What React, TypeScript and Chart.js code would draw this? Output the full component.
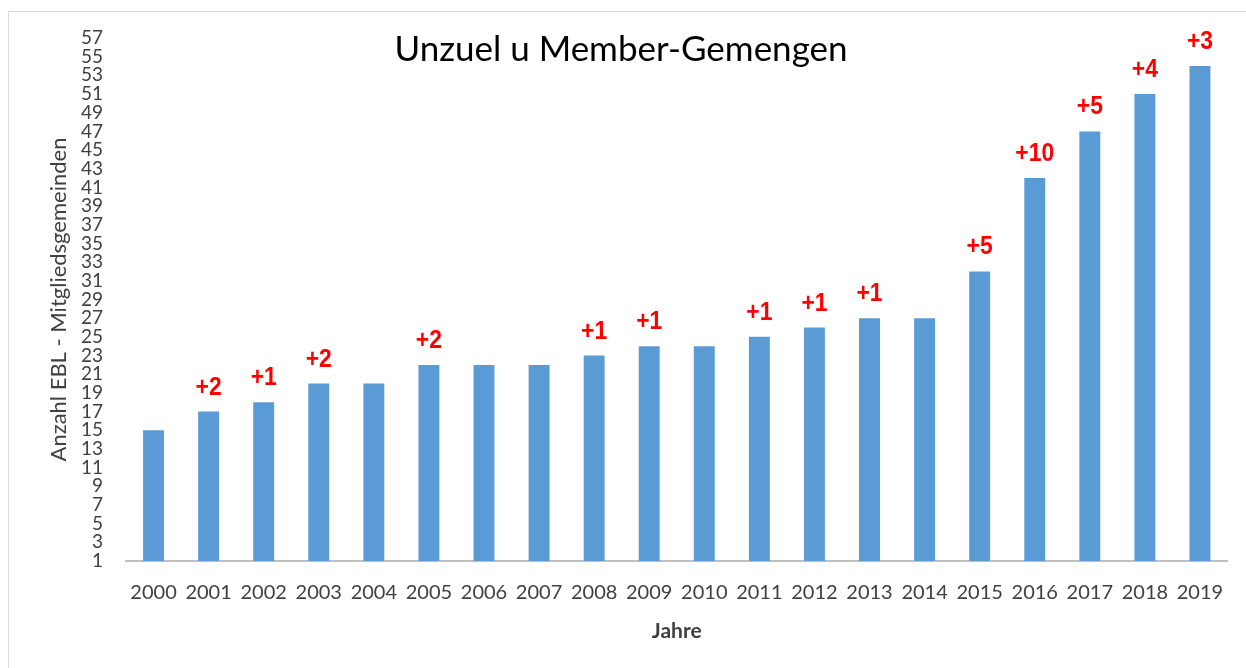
import React, { useEffect, useRef } from "react";
import { Chart, registerables } from "chart.js";

Chart.register(...registerables);

const years = ["2000","2001","2002","2003","2004","2005","2006","2007","2008","2009","2010","2011","2012","2013","2014","2015","2016","2017","2018","2019"];
const members = [15, 17, 18, 20, 20, 22, 22, 22, 23, 24, 24, 25, 26, 27, 27, 32, 42, 47, 51, 54];
const increments = ["", "+2", "+1", "+2", "", "+2", "", "", "+1", "+1", "", "+1", "+1", "+1", "", "+5", "+10", "+5", "+4", "+3"];
const chartTitle = "Unzuel u Member-Gemengen";
const yTitle = "Anzahl EBL - Mitgliedsgemeinden";
const xTitle = "Jahre";

const FONT = "Lato, 'Open Sans', sans-serif";

const framePlugin = {
  id: "frame",
  beforeDraw(chart: any) {
    const ctx = chart.ctx;
    ctx.save();
    ctx.fillStyle = "#ffffff";
    ctx.fillRect(0, 0, chart.width, chart.height);
    ctx.strokeStyle = "#d9d9d9";
    ctx.lineWidth = 1;
    ctx.strokeRect(8.5, 11.5, chart.width + 20, chart.height + 20);
    ctx.restore();
  },
  afterDraw(chart: any) {
    const ctx = chart.ctx;
    ctx.save();
    ctx.fillStyle = "#000000";
    ctx.font = `35px ${FONT}`;
    ctx.textAlign = "center";
    ctx.textBaseline = "middle";
    ctx.fillText(chartTitle, 621, 50);
    ctx.restore();
  },
};

const incrementPlugin = {
  id: "increments",
  afterDatasetsDraw(chart: any) {
    const ctx = chart.ctx;
    const meta = chart.getDatasetMeta(0);
    ctx.save();
    ctx.fillStyle = "#ff0000";
    ctx.font = `bold 26px 'Liberation Sans Narrow', 'Liberation Sans', Arial, sans-serif`;
    ctx.textAlign = "center";
    ctx.textBaseline = "alphabetic";
    meta.data.forEach((bar: any, i: number) => {
      const t = increments[i];
      if (!t) return;
      ctx.save();
      ctx.translate(bar.x, bar.y - 17);
      ctx.scale(0.88, 1);
      ctx.fillText(t, 0, 0);
      ctx.restore();
    });
    ctx.restore();
  },
};

export default function App() {
  const ref = useRef<HTMLCanvasElement>(null);
  useEffect(() => {
    document.body.style.margin = "0";
    document.body.style.overflow = "hidden";
    const chart = new Chart(ref.current as HTMLCanvasElement, {
      type: "bar",
      data: {
        labels: years,
        datasets: [
          {
            data: members,
            backgroundColor: "#5b9bd5",
            borderWidth: 0,
            barPercentage: 0.38,
            categoryPercentage: 1,
          },
        ],
      },
      options: {
        responsive: false,
        animation: false,
        events: [],
        layout: { padding: { left: 0, top: 38, right: 18.5, bottom: 0 } },
        plugins: {
          legend: { display: false },
          title: { display: false },
          tooltip: { enabled: false },
        },
        scales: {
          x: {
            grid: { display: false, drawTicks: false },
            border: { display: true, color: "#bfbfbf", width: 2 },
            ticks: {
              color: "#404040",
              font: { family: FONT, size: 20 },
              padding: 20,
              maxRotation: 0,
              autoSkip: false,
            },
            title: {
              display: true,
              text: xTitle,
              color: "#404040",
              font: { family: FONT, size: 21, weight: "bold" },
              padding: { top: 0, bottom: 24 },
            },
            afterFit(scale: any) {
              scale.height = 107;
            },
          },
          y: {
            min: 1,
            max: 57,
            grid: { display: false, drawTicks: false },
            border: { display: false },
            ticks: {
              stepSize: 2,
              autoSkip: false,
              color: "#404040",
              font: { family: FONT, size: 19, lineHeight: 1 },
              padding: 23,
            },
            title: {
              display: true,
              text: yTitle,
              color: "#404040",
              font: { family: FONT, size: 22 },
              padding: { top: 46, bottom: 0 },
            },
            afterFit(scale: any) {
              scale.width = 126;
            },
          },
        },
      },
      plugins: [framePlugin, incrementPlugin],
    });
    return () => chart.destroy();
  }, []);
  return <canvas ref={ref} width={1246} height={668} style={{ display: "block" }} />;
}
